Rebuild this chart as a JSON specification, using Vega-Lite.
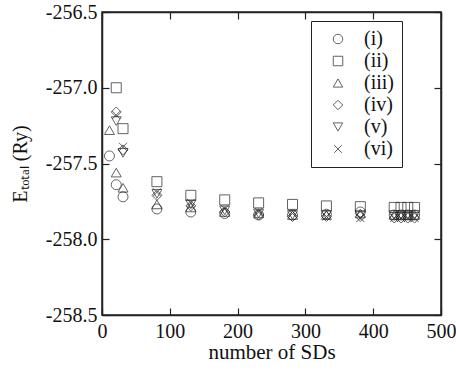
{
  "$schema": "https://vega.github.io/schema/vega-lite/v6.json",
  "width": 339,
  "height": 303,
  "autosize": "none",
  "padding": {"left": 102, "top": 12, "right": 15, "bottom": 60},
  "background": "white",
  "config": {
    "view": {"stroke": "#222", "strokeWidth": 1.5},
    "font": "Liberation Serif",
    "axis": {
      "grid": false,
      "labelFont": "Liberation Serif",
      "labelFontSize": 20,
      "labelColor": "#111",
      "tickColor": "#222",
      "tickSize": -7,
      "tickWidth": 1.2,
      "domainColor": "#222",
      "domainWidth": 1.5,
      "titleFont": "Liberation Serif",
      "titleFontWeight": "normal",
      "titleColor": "#111"
    }
  },
  "data": {
    "values": [
      {"n": 11, "E": -257.45, "s": "(i)"},
      {"n": 11, "E": -257.28, "s": "(iii)"},
      {"n": 21, "E": -257.00, "s": "(ii)"},
      {"n": 21, "E": -257.16, "s": "(iv)"},
      {"n": 21, "E": -257.18, "s": "(vi)"},
      {"n": 21, "E": -257.22, "s": "(v)"},
      {"n": 21, "E": -257.56, "s": "(iii)"},
      {"n": 21, "E": -257.64, "s": "(i)"},
      {"n": 31, "E": -257.27, "s": "(ii)"},
      {"n": 31, "E": -257.39, "s": "(vi)"},
      {"n": 31, "E": -257.41, "s": "(iv)"},
      {"n": 31, "E": -257.43, "s": "(v)"},
      {"n": 31, "E": -257.66, "s": "(iii)"},
      {"n": 31, "E": -257.72, "s": "(i)"},
      {"n": 81, "E": -257.62, "s": "(ii)"},
      {"n": 81, "E": -257.69, "s": "(vi)"},
      {"n": 81, "E": -257.71, "s": "(iv)"},
      {"n": 81, "E": -257.70, "s": "(v)"},
      {"n": 81, "E": -257.77, "s": "(iii)"},
      {"n": 81, "E": -257.80, "s": "(i)"},
      {"n": 131, "E": -257.71, "s": "(ii)"},
      {"n": 131, "E": -257.76, "s": "(vi)"},
      {"n": 131, "E": -257.78, "s": "(iv)"},
      {"n": 131, "E": -257.77, "s": "(v)"},
      {"n": 131, "E": -257.79, "s": "(iii)"},
      {"n": 131, "E": -257.82, "s": "(i)"},
      {"n": 181, "E": -257.74, "s": "(ii)"},
      {"n": 181, "E": -257.80, "s": "(vi)"},
      {"n": 181, "E": -257.82, "s": "(iv)"},
      {"n": 181, "E": -257.81, "s": "(v)"},
      {"n": 181, "E": -257.82, "s": "(iii)"},
      {"n": 181, "E": -257.83, "s": "(i)"},
      {"n": 231, "E": -257.76, "s": "(ii)"},
      {"n": 231, "E": -257.82, "s": "(vi)"},
      {"n": 231, "E": -257.84, "s": "(iv)"},
      {"n": 231, "E": -257.83, "s": "(v)"},
      {"n": 231, "E": -257.83, "s": "(iii)"},
      {"n": 231, "E": -257.84, "s": "(i)"},
      {"n": 281, "E": -257.77, "s": "(ii)"},
      {"n": 281, "E": -257.83, "s": "(vi)"},
      {"n": 281, "E": -257.85, "s": "(iv)"},
      {"n": 281, "E": -257.84, "s": "(v)"},
      {"n": 281, "E": -257.84, "s": "(iii)"},
      {"n": 281, "E": -257.84, "s": "(i)"},
      {"n": 331, "E": -257.78, "s": "(ii)"},
      {"n": 331, "E": -257.85, "s": "(vi)"},
      {"n": 331, "E": -257.85, "s": "(iv)"},
      {"n": 331, "E": -257.84, "s": "(v)"},
      {"n": 331, "E": -257.84, "s": "(iii)"},
      {"n": 331, "E": -257.835, "s": "(i)"},
      {"n": 381, "E": -257.785, "s": "(ii)"},
      {"n": 381, "E": -257.86, "s": "(vi)"},
      {"n": 381, "E": -257.85, "s": "(iv)"},
      {"n": 381, "E": -257.84, "s": "(v)"},
      {"n": 381, "E": -257.83, "s": "(iii)"},
      {"n": 381, "E": -257.82, "s": "(i)"},
      {"n": 431, "E": -257.79, "s": "(ii)"},
      {"n": 431, "E": -257.86, "s": "(vi)"},
      {"n": 431, "E": -257.86, "s": "(iv)"},
      {"n": 431, "E": -257.84, "s": "(v)"},
      {"n": 431, "E": -257.84, "s": "(iii)"},
      {"n": 431, "E": -257.84, "s": "(i)"},
      {"n": 441, "E": -257.79, "s": "(ii)"},
      {"n": 441, "E": -257.86, "s": "(vi)"},
      {"n": 441, "E": -257.86, "s": "(iv)"},
      {"n": 441, "E": -257.84, "s": "(v)"},
      {"n": 441, "E": -257.84, "s": "(iii)"},
      {"n": 441, "E": -257.84, "s": "(i)"},
      {"n": 451, "E": -257.79, "s": "(ii)"},
      {"n": 451, "E": -257.86, "s": "(vi)"},
      {"n": 451, "E": -257.86, "s": "(iv)"},
      {"n": 451, "E": -257.84, "s": "(v)"},
      {"n": 451, "E": -257.84, "s": "(iii)"},
      {"n": 451, "E": -257.84, "s": "(i)"},
      {"n": 461, "E": -257.79, "s": "(ii)"},
      {"n": 461, "E": -257.86, "s": "(vi)"},
      {"n": 461, "E": -257.86, "s": "(iv)"},
      {"n": 461, "E": -257.84, "s": "(v)"},
      {"n": 461, "E": -257.84, "s": "(iii)"},
      {"n": 461, "E": -257.84, "s": "(i)"}
    ]
  },
  "layer": [
    {
      "mark": {"type": "point", "filled": false, "color": "#222", "strokeWidth": 1, "size": 100},
      "encoding": {
        "x": {
          "field": "n", "type": "quantitative",
          "scale": {"domain": [0, 500], "nice": false, "zero": false},
          "axis": {"orient": "bottom", "values": [0, 100, 200, 300, 400, 500], "labelPadding": 13, "labelFlush": false, "title": "number of SDs", "titleFontSize": 21, "titlePadding": 0}
        },
        "y": {
          "field": "E", "type": "quantitative",
          "scale": {"domain": [-258.5, -256.5], "nice": false, "zero": false},
          "axis": {"orient": "left", "values": [-258.5, -258, -257.5, -257, -256.5], "labelExpr": "'-' + format(abs(datum.value), '.1f')", "labelPadding": 12, "title": "Eₜₒₜₐₗ (Ry)", "titleFontSize": 20, "titlePadding": 15}
        },
        "shape": {
          "field": "s", "type": "nominal",
          "scale": {
            "domain": ["(i)", "(ii)", "(iii)", "(iv)", "(v)", "(vi)"],
            "range": ["circle", "square", "triangle-up", "diamond", "triangle-down", "M-0.8,-0.8L0.8,0.8M-0.8,0.8L0.8,-0.8"]
          },
          "legend": {
            "orient": "none", "legendX": 209, "legendY": 9, "title": null,
            "strokeColor": "#222", "padding": 8, "labelFont": "Liberation Serif", "labelFontSize": 20, "labelColor": "#111",
            "symbolStrokeColor": "#222", "symbolFillColor": "transparent", "symbolStrokeWidth": 1, "symbolSize": 90,
            "rowPadding": 2, "labelOffset": 16, "symbolOffset": 9
          }
        }
      }
    },
    {
      "mark": {"type": "point", "opacity": 0},
      "encoding": {
        "x": {"field": "n", "type": "quantitative", "scale": {"domain": [0, 500], "nice": false, "zero": false},
          "axis": {"orient": "top", "values": [0, 100, 200, 300, 400, 500], "labels": false, "title": null}},
        "y": {"field": "E", "type": "quantitative", "scale": {"domain": [-258.5, -256.5], "nice": false, "zero": false},
          "axis": {"orient": "right", "values": [-258.5, -258, -257.5, -257, -256.5], "labels": false, "title": null}}
      }
    }
  ],
  "resolve": {"axis": {"x": "independent", "y": "independent"}}
}
